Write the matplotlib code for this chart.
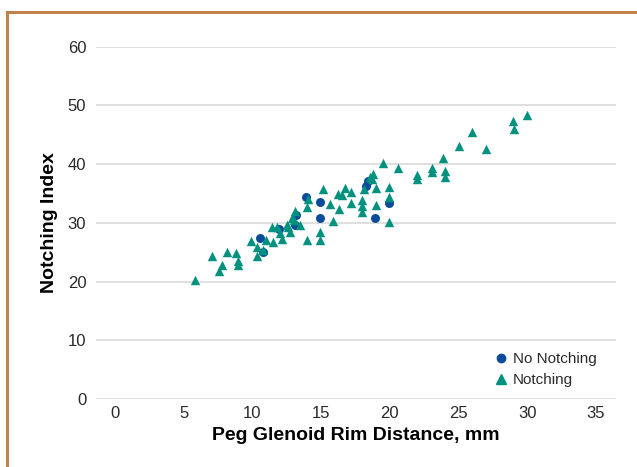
import matplotlib
matplotlib.use("Agg")
import matplotlib.pyplot as plt
from matplotlib.lines import Line2D

# No Notching (circles)
no_notch_x = [10.55, 10.79, 11.96, 13.17, 13.10, 13.90, 14.92, 14.92, 18.25, 18.39, 18.92, 19.91]
no_notch_y = [27.5, 25.0, 28.9, 31.4, 29.6, 34.4, 33.6, 30.8, 36.2, 37.2, 30.8, 33.4]

# Notching (triangles)
notch_x = [5.82, 7.08, 7.77, 7.59, 8.13, 8.78, 8.97, 8.97, 9.88, 10.31, 10.31, 10.99,
           10.75, 11.48, 11.40, 11.77, 12.01, 12.13, 12.50, 12.74, 12.61, 12.86, 13.10,
           13.05, 13.46, 14.07, 13.95, 14.00, 15.12, 14.92, 14.92, 15.65, 15.89, 16.30,
           16.25, 16.50, 16.74, 17.18, 17.18, 17.96, 17.96, 17.96, 18.12, 18.56, 18.76,
           18.68, 18.97, 18.97, 19.47, 19.96, 19.96, 19.96, 20.56, 21.96, 21.96, 23.05,
           23.05, 23.89, 24.02, 24.02, 25.04, 25.96, 26.98, 28.99, 29.06, 30.01]
notch_y = [20.2, 24.4, 22.9, 21.8, 25.0, 24.8, 23.5, 22.8, 26.9, 25.9, 24.4, 27.0,
           25.3, 26.7, 29.3, 29.3, 28.2, 27.2, 29.7, 28.5, 29.3, 30.9, 32.0,
           30.5, 29.7, 34.0, 32.7, 27.0, 35.7, 28.5, 27.0, 33.2, 30.3, 32.4,
           34.9, 34.7, 35.9, 35.3, 33.4, 33.9, 32.8, 31.9, 35.7, 37.8, 38.4,
           37.4, 36.0, 33.0, 40.2, 36.1, 34.4, 30.2, 39.4, 38.1, 37.4, 39.4,
           38.6, 41.1, 38.8, 37.8, 43.1, 45.4, 42.6, 47.4, 46.0, 48.3]

xticks = [0, 5, 10, 15, 20, 25, 30, 35]
yticks = [0, 10, 20, 30, 40, 50, 60]

blue = "#0B4C9A"
teal = "#00917F"

plt.rcParams['font.family'] = ['Liberation Sans', 'DejaVu Sans']

W, H = 637, 467
fig = plt.figure(figsize=(W / 100, H / 100), dpi=100)
ax = fig.add_axes([96 / W, 1 - 399 / H, 520 / W, 352.3 / H])

ax.scatter(no_notch_x, no_notch_y, marker='o', s=42, color=blue, linewidths=0,
           label='No Notching', zorder=3, clip_on=False)
ax.scatter(notch_x, notch_y, marker='^', s=46, color=teal, linewidths=0,
           label='Notching', zorder=4, clip_on=False)

ax.set_xlim(-1.38, 36.46)
ax.set_ylim(0, 60)
ax.set_xticks(xticks)
ax.set_yticks(yticks)
ax.tick_params(length=0, labelsize=12, labelcolor='#2a2a2a')
ax.tick_params(axis='x', pad=5)
ax.tick_params(axis='y', pad=7)
ax.grid(axis='y', color='#D9D9D9', linewidth=1.2, zorder=0)
ax.set_axisbelow(True)
for s in ax.spines.values():
    s.set_visible(False)

ax.set_xlabel('Peg Glenoid Rim Distance, mm', fontsize=14, fontweight='bold',
              labelpad=4, color='black')
ax.set_ylabel('Notching Index', fontsize=14, fontweight='bold', labelpad=7, color='black')

handles = [Line2D([], [], marker='o', linestyle='', color=blue, markersize=6),
           Line2D([], [], marker='^', linestyle='', color=teal, markersize=6.5)]
fig.legend(handles, ['No Notching', 'Notching'], loc='center left',
           bbox_to_anchor=(494 / W, 1 - 369.5 / H), frameon=False, fontsize=11,
           handlelength=0.9, handletextpad=0.35, labelspacing=0.45, borderpad=0,
           borderaxespad=0, labelcolor='#2a2a2a')

# border cropped at right and bottom
border = '#C0824C'
fig.add_artist(Line2D([7 / W, 1.0], [1 - 12 / H, 1 - 12 / H], color=border, linewidth=2.2,
                      transform=fig.transFigure))
fig.add_artist(Line2D([7 / W, 7 / W], [0, 1 - 12 / H], color=border, linewidth=2.2,
                      transform=fig.transFigure))

fig.savefig('out.png', dpi=100)
